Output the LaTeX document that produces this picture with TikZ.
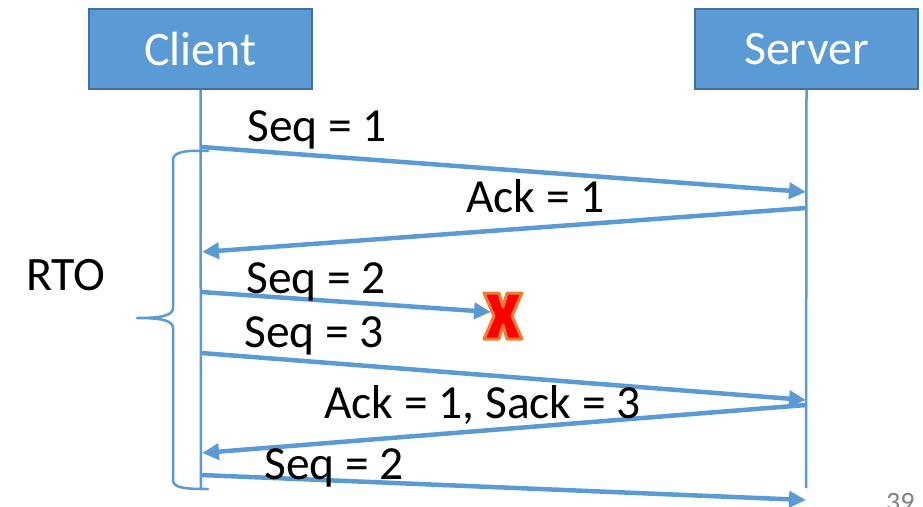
\documentclass[tikz,border=0pt]{standalone}
\usepackage{fontspec}
\setmainfont{Carlito}
\usetikzlibrary{arrows.meta}
\definecolor{lineblue}{HTML}{5B9BD5}
\definecolor{boxedge}{HTML}{41719C}
\definecolor{xorange}{HTML}{ED7D31}
\tikzset{
  actor/.style={draw=boxedge, line width=1.5pt, fill=lineblue, text=white,
    minimum width=223pt, minimum height=80pt, inner sep=0pt,
    font=\fontsize{48}{52}\selectfont},
  lifeline/.style={draw=lineblue, line width=2.5pt},
  msg/.style={draw=lineblue, line width=4.5pt,
    -{Triangle[length=17pt,width=16pt]}},
  msglabel/.style={anchor=base west, inner sep=0pt,
    font=\fontsize{47.5}{52}\selectfont},
}
\begin{document}
\begin{tikzpicture}[x=1pt,y=-1pt]
\useasboundingbox (0,0) rectangle (923,506);
\clip (0,0) rectangle (923,506);

% participants
\node[actor] (client) at (200.5,49) {Client};
\node[actor] (server) at (806.5,49) {Server};

% lifelines
\coordinate (cend) at (201,490);
\coordinate (send) at (806,488);
\draw[lifeline] (client.south) -- (cend);
\draw[lifeline] (server.south) -- (send);

% message end points on the lifelines
\coordinate (c1) at (201,147);  \coordinate (s1) at (806,192);
\coordinate (s2) at (806,208);  \coordinate (c2) at (202,252);
\coordinate (c3) at (201,292);  \coordinate (lost) at (491,312);
\coordinate (c4) at (201,353);  \coordinate (s4) at (806,400);
\coordinate (s5) at (806,405);  \coordinate (c5) at (202,453);
\coordinate (c6) at (201,475);  \coordinate (s6) at (806,500);

% messages
\draw[msg] (c1) -- (s1);
\draw[msg] (s2) -- (c2);
\draw[msg] (c3) -- (lost);
\draw[msg] (c4) -- (s4);
\draw[msg] (s5) -- (c5);
\draw[msg] (c6) -- (s6);

% message labels
\node[msglabel] (l1) at (247,141) {Seq = 1};
\node[msglabel] (l2) at (466,212) {Ack = 1};
\node[msglabel] (l3) at (246,293) {Seq = 2};
\node[msglabel] (l4) at (244,347) {Seq = 3};
\node[msglabel] (l5) at (324,418) {Ack = 1, Sack = 3};
\node[msglabel] (l6) at (264,479) {Seq = 2};

% lost packet mark
\begin{scope}[shift={(503,316)}]
  \filldraw[fill=red, draw=xorange, line width=3pt, line join=round]
    (-19,-23) -- (-4,-23) -- (0,-9) -- (4,-23) -- (19,-23) -- (9,0)
    -- (19,23) -- (4,23) -- (0,9) -- (-4,23) -- (-19,23) -- (-9,0) -- cycle;
\end{scope}

% retransmission timeout brace
\draw[lineblue, line width=2.5pt, line cap=round]
  (208,151) .. controls (185,150) and (173,152) .. (173,160)
  -- (173,308) .. controls (173,316) and (160,318) .. (137,318)
  (137,318) .. controls (160,318) and (173,320) .. (173,328)
  -- (173,480) .. controls (173,488) and (185,489) .. (208,489);
\node[font=\fontsize{48}{52}\selectfont, inner sep=0pt] (rto) at (66,275) {RTO};

% slide number
\node[anchor=north west, inner sep=0pt, text=gray,
  font=\fontsize{28}{30}\selectfont] (page) at (886,493) {39};
\end{tikzpicture}
\end{document}
